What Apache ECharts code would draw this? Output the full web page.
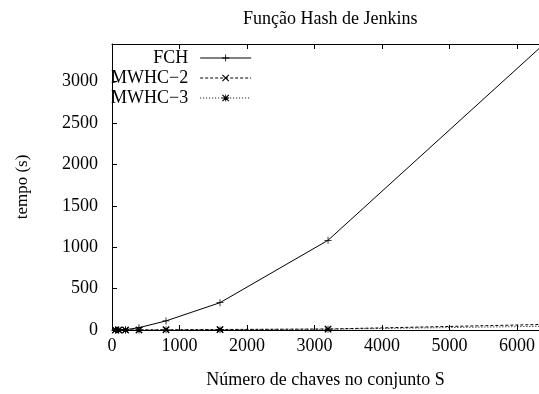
<!DOCTYPE html>
<html>
<head>
<meta charset="utf-8">
<script src="https://cdn.jsdelivr.net/npm/echarts@6/dist/echarts.min.js"></script>
<style>
html, body { margin: 0; padding: 0; background: #fff; }
#e_chart_1 { width: 539px; height: 394px; }
</style>
</head>
<body>
<div id="e_chart_1"></div>
<script>
// numero de chaves (eixo x)
var chaves = [50, 100, 200, 400, 800, 1600, 3200, 6400];
// tempos em segundos
var fch   = [0.3, 1, 4, 28, 110, 330, 1084, 3455];
var mwhc2 = [0.1, 0.2, 0.5, 1, 2.5, 6, 12, 67];
var mwhc3 = [0.1, 0.2, 0.4, 0.8, 2, 4.5, 9, 45];
var nomes = ['FCH', 'MWHC\u22122', 'MWHC\u22123'];
var xTicks = [0, 1000, 2000, 3000, 4000, 5000, 6000];
var yTicks = [0, 500, 1000, 1500, 2000, 2500, 3000];

var fonte = '"Liberation Serif", "DejaVu Serif", serif';

var plusSym = 'path://M4,0h1v4h4v1h-4v4h-1v-4h-4v-1h4z';
var crossSym = 'path://M0,1l1,-1l3.5,3.5l3.5,-3.5l1,1l-3.5,3.5l3.5,3.5l-1,1l-3.5,-3.5l-3.5,3.5l-1,-1l3.5,-3.5z';
var starSym = 'path://M0,1l1,-1l3.5,3.5l3.5,-3.5l1,1l-3.5,3.5l3.5,3.5l-1,1l-3.5,-3.5l-3.5,3.5l-1,-1l3.5,-3.5zM4,0h1v9h-1zM0,4h9v1h-9z';

function pares(ys) {
    var out = [];
    for (var i = 0; i < chaves.length; i++) {
        out.push([chaves[i], ys[i]]);
    }
    return out;
}

var dom = document.getElementById('e_chart_1');
var myChart = echarts.init(dom, null, { renderer: 'canvas' });

var axisLine = { show: true, lineStyle: { color: '#000', width: 1 } };
var axisTick = { show: true, inside: true, length: 5, lineStyle: { color: '#000' } };

var option = {
    backgroundColor: '#fff',
    animation: false,
    textStyle: { fontFamily: fonte },
    title: {
        text: 'Função Hash de Jenkins',
        left: 238,
        top: 5,
        textStyle: { fontFamily: fonte, fontSize: 18, fontWeight: 'normal', color: '#000' }
    },
    legend: {
        orient: 'vertical',
        align: 'right',
        left: 111,
        top: 49,
        padding: 0,
        itemGap: 2,
        itemWidth: 51,
        itemHeight: 9,
        data: nomes,
        lineStyle: { width: 1 },
        textStyle: { fontFamily: fonte, fontSize: 18, color: '#000', padding: [0, 7, 0, 0] }
    },
    grid: {
        left: 112,
        right: 0,
        top: 44,
        bottom: 61.5,
        containLabel: false
    },
    xAxis: [{
        type: 'value',
        position: 'bottom',
        min: 0,
        max: 6325,
        interval: 1000,
        name: 'Número de chaves no conjunto S',
        nameLocation: 'middle',
        nameGap: 41,
        nameTextStyle: { fontFamily: fonte, fontSize: 18, color: '#000' },
        axisLine: axisLine,
        axisTick: axisTick,
        splitLine: { show: false },
        axisLabel: {
            showMaxLabel: false,
            margin: 7,
            fontFamily: fonte,
            fontSize: 18,
            color: '#000',
            formatter: function (v) { return xTicks.indexOf(v) >= 0 ? String(v) : ''; }
        }
    }, {
        type: 'value',
        position: 'top',
        min: 0,
        max: 6325,
        interval: 1000,
        axisLine: axisLine,
        axisTick: axisTick,
        splitLine: { show: false },
        axisLabel: { show: false }
    }],
    yAxis: [{
        type: 'value',
        min: 0,
        max: 3455,
        interval: 500,
        name: 'tempo (s)',
        nameLocation: 'middle',
        nameRotate: 90,
        nameGap: 81,
        nameTextStyle: { fontFamily: fonte, fontSize: 17, color: '#000' },
        axisLine: axisLine,
        axisTick: axisTick,
        splitLine: { show: false },
        axisLabel: {
            showMaxLabel: false,
            margin: 14,
            padding: [3, 0, 0, 0],
            fontFamily: fonte,
            fontSize: 18,
            color: '#000',
            formatter: function (v) { return yTicks.indexOf(v) >= 0 ? String(v) : ''; }
        }
    }],
    series: [{
        name: nomes[0],
        type: 'line',
        data: pares(fch),
        symbol: plusSym,
        symbolSize: 7,
        showAllSymbol: true,
        clip: true,
        color: '#000',
        itemStyle: { color: '#000' },
        lineStyle: { color: '#000', width: 1, type: 'solid' },
        z: 3
    }, {
        name: nomes[1],
        type: 'line',
        data: pares(mwhc2),
        symbol: crossSym,
        symbolSize: 7,
        showAllSymbol: true,
        clip: true,
        color: '#000',
        itemStyle: { color: '#000' },
        lineStyle: { color: '#000', width: 1, type: [3, 2] },
        z: 2
    }, {
        name: nomes[2],
        type: 'line',
        data: pares(mwhc3),
        symbol: starSym,
        symbolSize: 7,
        showAllSymbol: true,
        clip: true,
        color: '#000',
        itemStyle: { color: '#000' },
        lineStyle: { color: '#000', width: 1, type: [1, 2] },
        z: 2
    }]
};

if (option && typeof option === 'object') {
    myChart.setOption(option, true);
}
</script>
</body>
</html>
